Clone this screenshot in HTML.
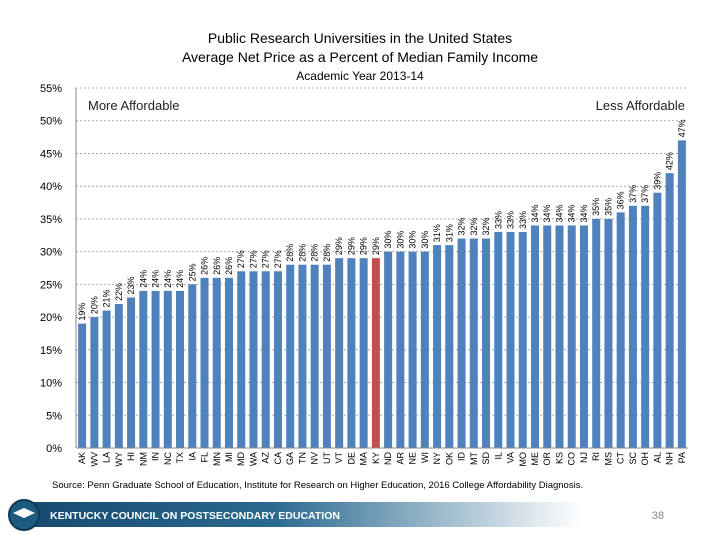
<!DOCTYPE html>
<html><head><meta charset="utf-8"><style>
body{margin:0;background:#fff;}
svg{display:block;font-family:"Liberation Sans",Calibri,sans-serif;}
</style></head><body>
<svg id="chart" width="720" height="540" viewBox="0 0 720 540">
<text x="360" y="43" text-anchor="middle" font-size="14" fill="#000">Public Research Universities in the United States</text>
<text x="360" y="62" text-anchor="middle" font-size="14" fill="#000">Average Net Price as a Percent of Median Family Income</text>
<text x="360" y="80" text-anchor="middle" font-size="12" fill="#000">Academic Year 2013-14</text>
<g id="grid"></g>
<g id="bars"></g>
<line x1="76" y1="88" x2="76" y2="448" stroke="#888"/>
<line x1="76" y1="448" x2="688" y2="448" stroke="#888"/>
<text x="88" y="110" font-size="13" fill="#222">More Affordable</text>
<text x="685" y="110" text-anchor="end" font-size="13" fill="#222">Less Affordable</text>
<text x="52" y="488" font-size="9.5" fill="#000">Source:  Penn Graduate School of Education, Institute for Research on Higher Education, 2016 College Affordability Diagnosis.</text>
<defs><linearGradient id="bg" x1="0" x2="1"><stop offset="0" stop-color="#164a6e"/><stop offset="0.45" stop-color="#2a6a90"/><stop offset="1" stop-color="#fff"/></linearGradient></defs>
<rect x="22" y="502" width="560" height="25" fill="url(#bg)"/>
<circle cx="24" cy="515" r="15" fill="#1d5a80" stroke="#0e3a56" stroke-width="2"/>
<path d="M13 513 L24 508 L35 513 L24 518 Z" fill="#fff"/>
<text x="50" y="519" font-size="10.5" font-weight="bold" fill="#fff">KENTUCKY COUNCIL ON POSTSECONDARY EDUCATION</text>
<text x="658" y="519" text-anchor="middle" font-size="11" fill="#888">38</text>
</svg>
<script>
const states=["AK","WV","LA","WY","HI","NM","IN","NC","TX","IA","FL","MN","MI","MD","WA","AZ","CA","GA","TN","NV","UT","VT","DE","MA","KY","ND","AR","NE","WI","NY","OK","ID","MT","SD","IL","VA","MO","ME","OR","KS","CO","NJ","RI","MS","CT","SC","OH","AL","NH","PA"];
const values=[19,20,21,22,23,24,24,24,24,25,26,26,26,27,27,27,27,28,28,28,28,29,29,29,29,30,30,30,30,31,31,32,32,32,33,33,33,34,34,34,34,34,35,35,36,37,37,39,42,47];
const yTicks=[0,5,10,15,20,25,30,35,40,45,50,55];
const highlight="KY";
const ns="http://www.w3.org/2000/svg";
const X0=76,X1=688,Y0=448,Y1=88,YMAX=55;
const step=(X1-X0)/states.length;
function y(v){return Y0-(v/YMAX)*(Y0-Y1);}
function x(i){return X0+step*(i+0.5);}
const grid=document.getElementById('grid'),bars=document.getElementById('bars');
yTicks.forEach(t=>{
 if(t>0){const l=document.createElementNS(ns,'line');
 l.setAttribute('x1',X0);l.setAttribute('x2',X1);l.setAttribute('y1',y(t));l.setAttribute('y2',y(t));
 l.setAttribute('stroke','#999');l.setAttribute('stroke-dasharray','2,2');l.setAttribute('stroke-width','0.8');
 
 
 grid.appendChild(l);}
 const tx=document.createElementNS(ns,'text');
 tx.setAttribute('x',X0-14);tx.setAttribute('y',y(t)+4);tx.setAttribute('text-anchor','end');tx.setAttribute('font-size','11');
 tx.textContent=t+'%';
 
 
 grid.appendChild(tx);
});
states.forEach((s,i)=>{
 const v=values[i],bw=8;
 const r=document.createElementNS(ns,'rect');
 r.setAttribute('x',x(i)-bw/2);r.setAttribute('y',y(v));r.setAttribute('width',bw);r.setAttribute('height',Y0-y(v));
 r.setAttribute('fill',s===highlight?'#c0504d':'#4f81bd');
 
 
 bars.appendChild(r);
 const vl=document.createElementNS(ns,'text');
 vl.setAttribute('transform','translate('+(x(i)+3)+','+(y(v)-3)+') rotate(-90)');
 vl.setAttribute('font-size','9');vl.textContent=v+'%';
 
 
 bars.appendChild(vl);
 const cl=document.createElementNS(ns,'text');
 cl.setAttribute('transform','translate('+(x(i)+3)+','+(Y0+4)+') rotate(-90)');
 cl.setAttribute('font-size','9');cl.setAttribute('text-anchor','end');cl.textContent=s;
 
 
 bars.appendChild(cl);
});
</script>
</body></html>
